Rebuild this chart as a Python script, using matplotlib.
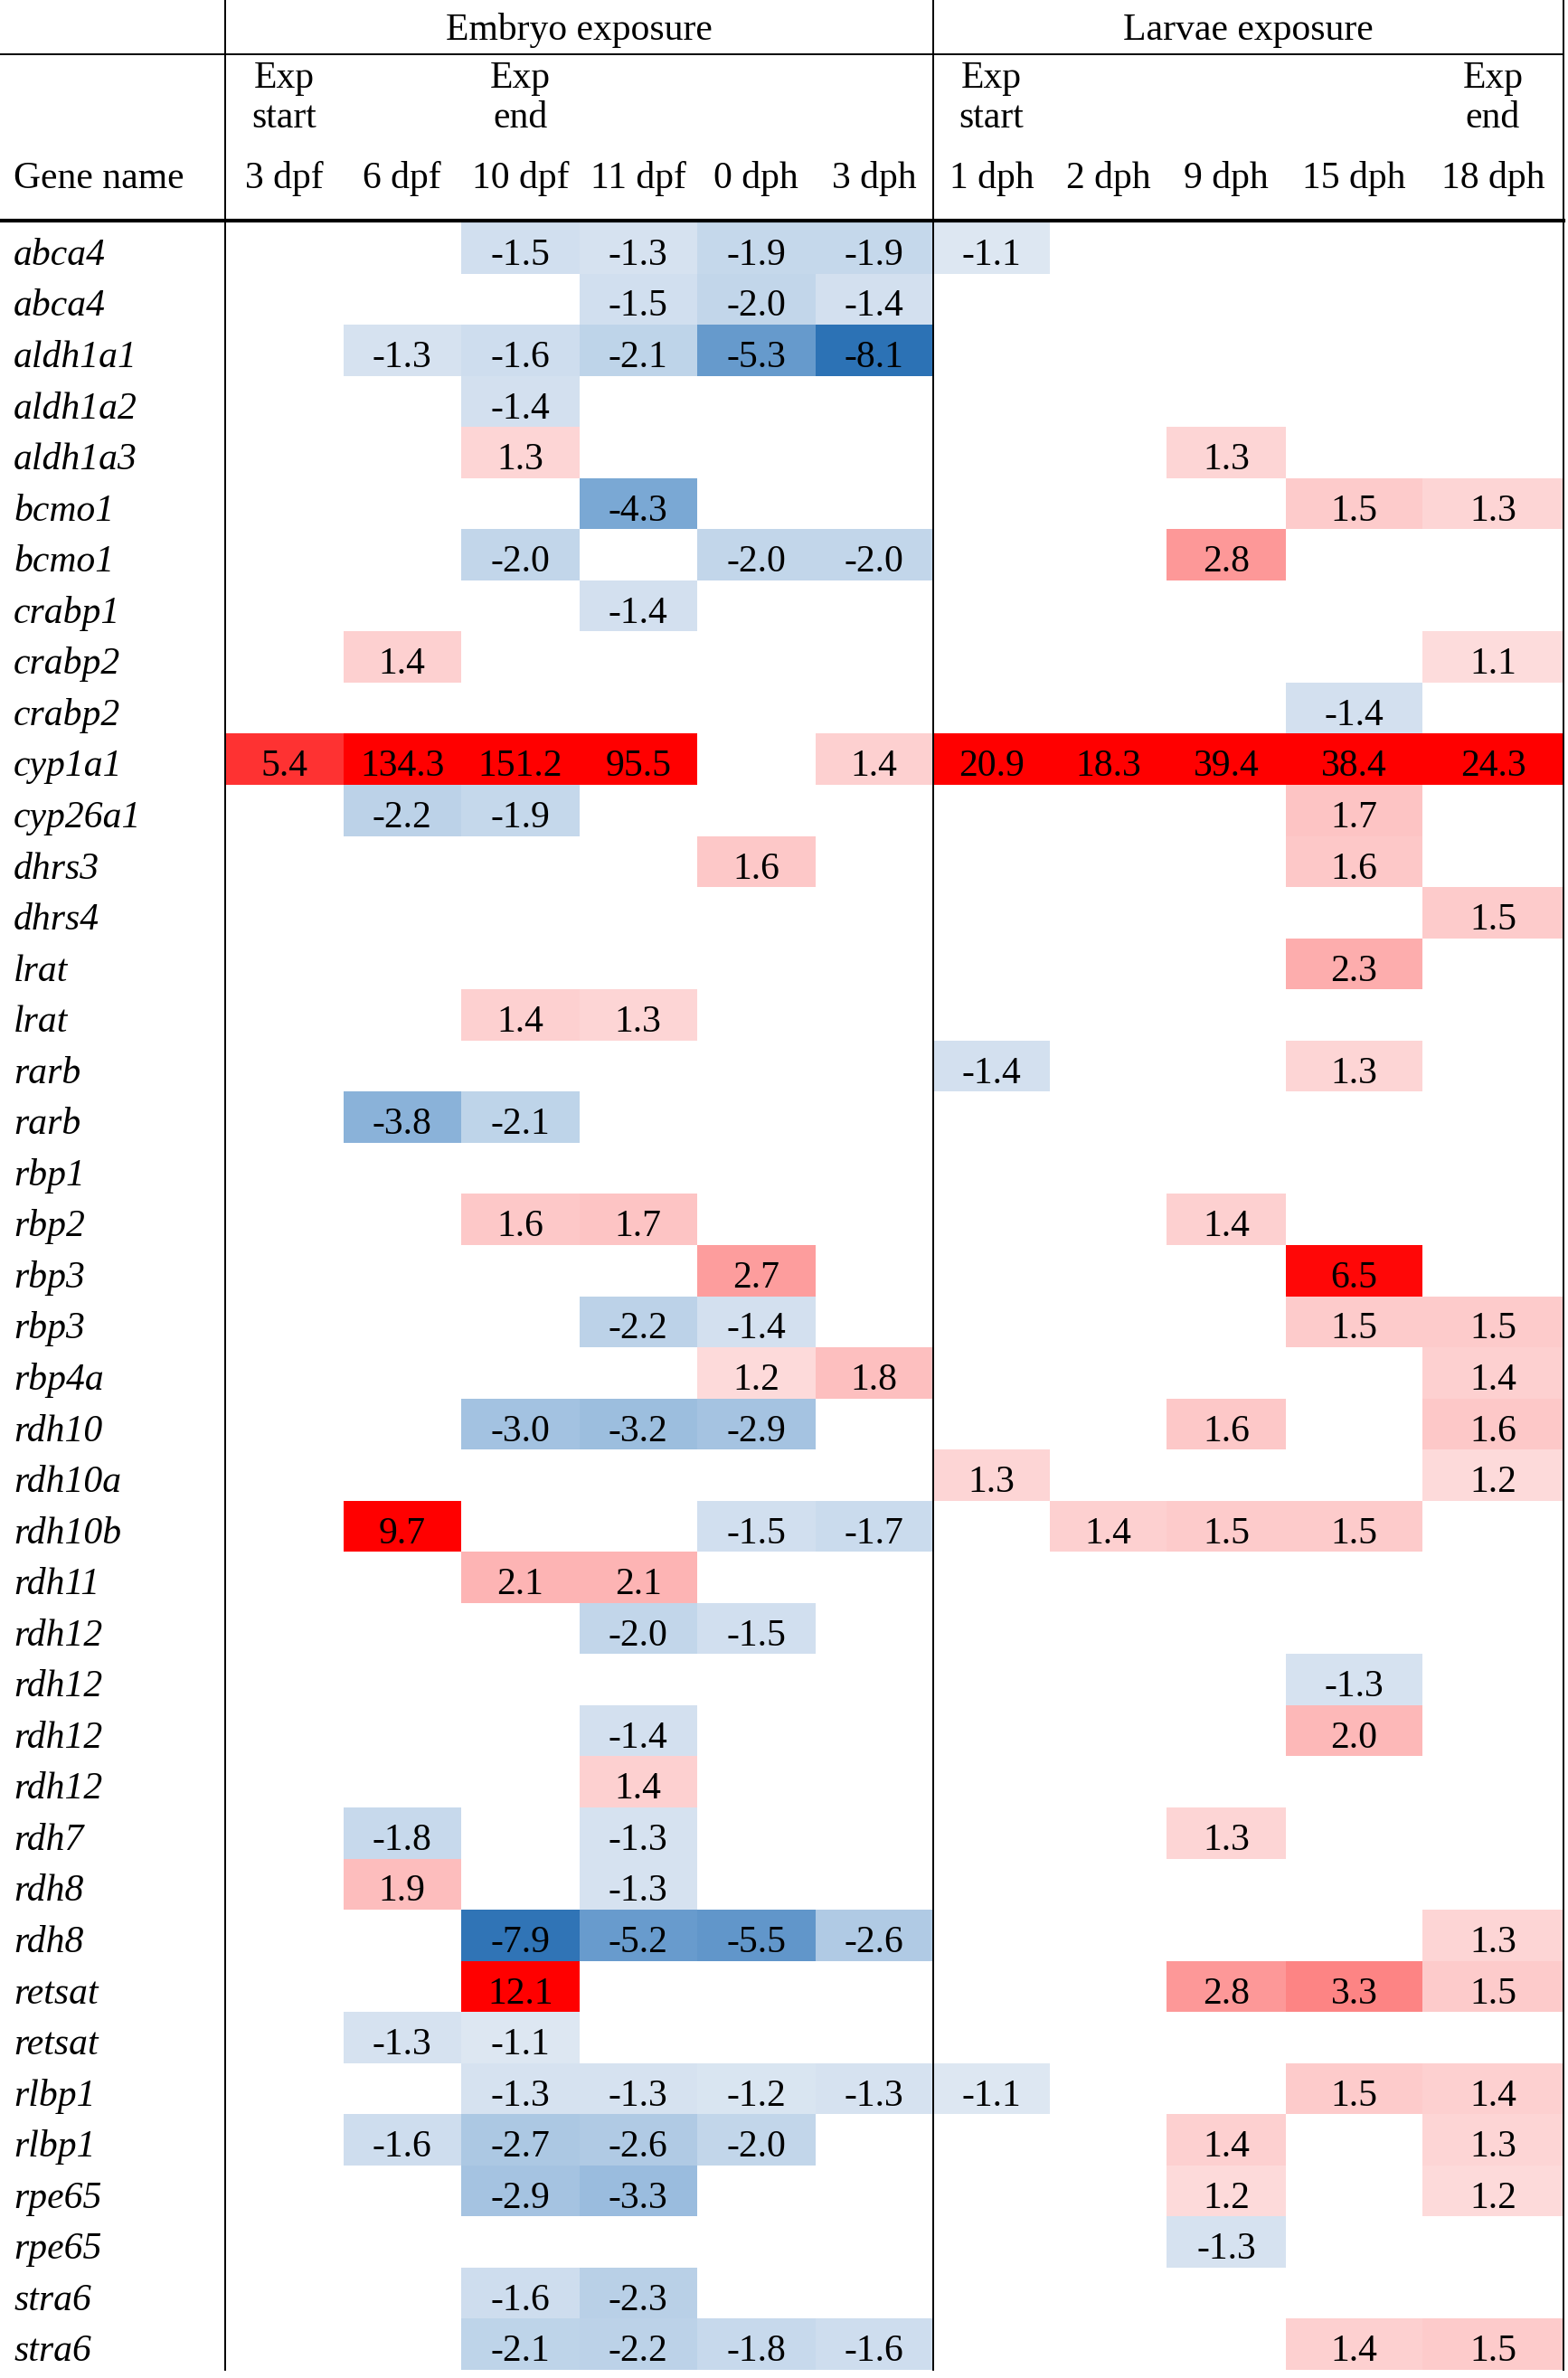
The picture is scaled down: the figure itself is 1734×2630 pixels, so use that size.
import numpy as np
import matplotlib
matplotlib.use("Agg")
import matplotlib.pyplot as plt
from matplotlib.colors import LinearSegmentedColormap, Normalize

W_PX, H_PX, DPI = 1734, 2630, 100
FONT = "Liberation Serif"
FS = 30

_ = np.nan

genes = [
    "abca4", "abca4", "aldh1a1", "aldh1a2", "aldh1a3", "bcmo1", "bcmo1",
    "crabp1", "crabp2", "crabp2", "cyp1a1", "cyp26a1", "dhrs3", "dhrs4",
    "lrat", "lrat", "rarb", "rarb", "rbp1", "rbp2", "rbp3", "rbp3", "rbp4a",
    "rdh10", "rdh10a", "rdh10b", "rdh11", "rdh12", "rdh12", "rdh12", "rdh12",
    "rdh7", "rdh8", "rdh8", "retsat", "retsat", "rlbp1", "rlbp1", "rpe65",
    "rpe65", "stra6", "stra6",
]

embryo_cols = ["3 dpf", "6 dpf", "10 dpf", "11 dpf", "0 dph", "3 dph"]
larvae_cols = ["1 dph", "2 dph", "9 dph", "15 dph", "18 dph"]
embryo_marks = ["Exp\nstart", "", "Exp\nend", "", "", ""]
larvae_marks = ["Exp\nstart", "", "", "", "Exp\nend"]

# fold changes, embryo exposure (3 dpf .. 3 dph)
embryo_fc = [
    [_, _, -1.5, -1.3, -1.9, -1.9],
    [_, _, _, -1.5, -2.0, -1.4],
    [_, -1.3, -1.6, -2.1, -5.3, -8.1],
    [_, _, -1.4, _, _, _],
    [_, _, 1.3, _, _, _],
    [_, _, _, -4.3, _, _],
    [_, _, -2.0, _, -2.0, -2.0],
    [_, _, _, -1.4, _, _],
    [_, 1.4, _, _, _, _],
    [_, _, _, _, _, _],
    [5.4, 134.3, 151.2, 95.5, _, 1.4],
    [_, -2.2, -1.9, _, _, _],
    [_, _, _, _, 1.6, _],
    [_, _, _, _, _, _],
    [_, _, _, _, _, _],
    [_, _, 1.4, 1.3, _, _],
    [_, _, _, _, _, _],
    [_, -3.8, -2.1, _, _, _],
    [_, _, _, _, _, _],
    [_, _, 1.6, 1.7, _, _],
    [_, _, _, _, 2.7, _],
    [_, _, _, -2.2, -1.4, _],
    [_, _, _, _, 1.2, 1.8],
    [_, _, -3.0, -3.2, -2.9, _],
    [_, _, _, _, _, _],
    [_, 9.7, _, _, -1.5, -1.7],
    [_, _, 2.1, 2.1, _, _],
    [_, _, _, -2.0, -1.5, _],
    [_, _, _, _, _, _],
    [_, _, _, -1.4, _, _],
    [_, _, _, 1.4, _, _],
    [_, -1.8, _, -1.3, _, _],
    [_, 1.9, _, -1.3, _, _],
    [_, _, -7.9, -5.2, -5.5, -2.6],
    [_, _, 12.1, _, _, _],
    [_, -1.3, -1.1, _, _, _],
    [_, _, -1.3, -1.3, -1.2, -1.3],
    [_, -1.6, -2.7, -2.6, -2.0, _],
    [_, _, -2.9, -3.3, _, _],
    [_, _, _, _, _, _],
    [_, _, -1.6, -2.3, _, _],
    [_, _, -2.1, -2.2, -1.8, -1.6],
]

# fold changes, larvae exposure (1 dph .. 18 dph)
larvae_fc = [
    [-1.1, _, _, _, _],
    [_, _, _, _, _],
    [_, _, _, _, _],
    [_, _, _, _, _],
    [_, _, 1.3, _, _],
    [_, _, _, 1.5, 1.3],
    [_, _, 2.8, _, _],
    [_, _, _, _, _],
    [_, _, _, _, 1.1],
    [_, _, _, -1.4, _],
    [20.9, 18.3, 39.4, 38.4, 24.3],
    [_, _, _, 1.7, _],
    [_, _, _, 1.6, _],
    [_, _, _, _, 1.5],
    [_, _, _, 2.3, _],
    [_, _, _, _, _],
    [-1.4, _, _, 1.3, _],
    [_, _, _, _, _],
    [_, _, _, _, _],
    [_, _, 1.4, _, _],
    [_, _, _, 6.5, _],
    [_, _, _, 1.5, 1.5],
    [_, _, _, _, 1.4],
    [_, _, 1.6, _, 1.6],
    [1.3, _, _, _, 1.2],
    [_, 1.4, 1.5, 1.5, _],
    [_, _, _, _, _],
    [_, _, _, _, _],
    [_, _, _, -1.3, _],
    [_, _, _, 2.0, _],
    [_, _, _, _, _],
    [_, _, 1.3, _, _],
    [_, _, _, _, _],
    [_, _, _, _, 1.3],
    [_, _, 2.8, 3.3, 1.5],
    [_, _, _, _, _],
    [-1.1, _, _, 1.5, 1.4],
    [_, _, 1.4, _, 1.3],
    [_, _, 1.2, _, 1.2],
    [_, _, -1.3, _, _],
    [_, _, _, _, _],
    [_, _, _, 1.4, 1.5],
]

# layout in pixels
GENE_W = 249
col_widths = [130.5] * 6 + [129, 129, 132, 151, 156]
col_edges = GENE_W + np.concatenate([[0], np.cumsum(col_widths)])
TOP_LINE = 60
HEAD_LINE = 244
ROW0 = 246
ROW_END = 2621
row_edges = np.linspace(ROW0, ROW_END, len(genes) + 1)

# colour scale (Excel-like): blue for down, red for up, saturating
scale_vals = [-8.1, -4.3, -2.0, -1.0, 1.0, 1.5, 3.3, 6.7]
scale_cols = ["#2c72b5", "#7ba8d4", "#c2d6ea", "#dfe8f3",
              "#fde2e2", "#fdcccc", "#fd8585", "#ff0000"]
norm = Normalize(vmin=scale_vals[0], vmax=scale_vals[-1], clip=True)
cmap = LinearSegmentedColormap.from_list(
    "fc", list(zip([float(norm(v)) for v in scale_vals], scale_cols)))

values = np.hstack([np.array(embryo_fc), np.array(larvae_fc)])

fig = plt.figure(figsize=(W_PX / DPI, H_PX / DPI), dpi=DPI)
ax = fig.add_axes([0, 0, 1, 1])
ax.set_xlim(0, W_PX)
ax.set_ylim(H_PX, 0)
ax.axis("off")

ax.pcolormesh(col_edges, row_edges, np.ma.masked_invalid(values),
              cmap=cmap, norm=norm, edgecolors="none", antialiased=False)

# cell text
row_h = row_edges[1] - row_edges[0]
centers = (col_edges[:-1] + col_edges[1:]) / 2
for i, g in enumerate(genes):
    base = row_edges[i] + 0.83 * row_h
    ax.text(15, base, g, fontsize=FS, family=FONT, style="italic",
            ha="left", va="baseline")
    for j in range(values.shape[1]):
        v = values[i, j]
        if np.isnan(v):
            continue
        ax.text(centers[j], base, f"{v:.1f}", fontsize=FS, family=FONT,
                ha="center", va="baseline")

# headers
ax.text((col_edges[0] + col_edges[6]) / 2, 44, "Embryo exposure",
        fontsize=FS, family=FONT, ha="center", va="baseline")
ax.text((col_edges[6] + col_edges[-1]) / 2, 44, "Larvae exposure",
        fontsize=FS, family=FONT, ha="center", va="baseline")
ax.text(15, 208, "Gene name", fontsize=FS, family=FONT, ha="left", va="baseline")
for j, (lab, mark) in enumerate(zip(embryo_cols + larvae_cols,
                                    embryo_marks + larvae_marks)):
    ax.text(centers[j], 208, lab, fontsize=FS, family=FONT,
            ha="center", va="baseline")
    if mark:
        top, bottom = mark.split("\n")
        ax.text(centers[j], 97, top, fontsize=FS, family=FONT,
                ha="center", va="baseline")
        ax.text(centers[j], 141, bottom, fontsize=FS, family=FONT,
                ha="center", va="baseline")

# rules
right = col_edges[-1]
ax.plot([0, right], [TOP_LINE, TOP_LINE], color="black", lw=1.4)
ax.plot([0, right], [HEAD_LINE, HEAD_LINE], color="black", lw=3)
for x in (col_edges[0], col_edges[6], right):
    ax.plot([x, x], [0, ROW_END], color="black", lw=1.4)

fig.savefig("out.png", dpi=DPI)
